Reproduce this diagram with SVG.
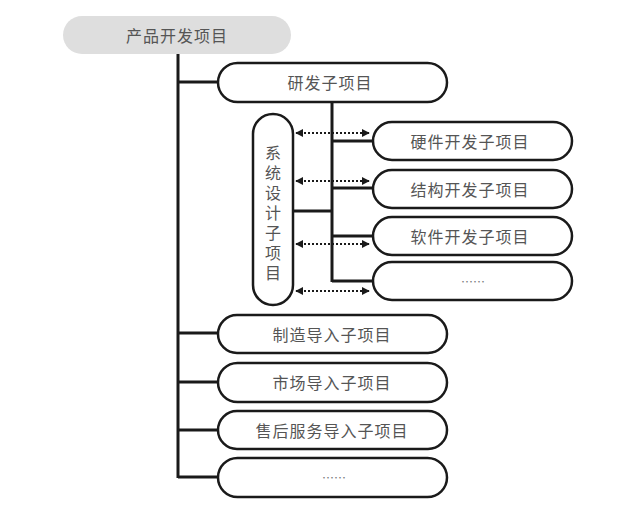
<svg xmlns="http://www.w3.org/2000/svg" width="640" height="523" viewBox="0 0 640 523">
<style>
.n{fill:#fff;stroke:#1a1a1a;stroke-width:2.5}
.t{font-family:"Noto Sans CJK SC","Noto Sans",sans-serif;font-size:16px;fill:#555;text-anchor:middle;dominant-baseline:central;letter-spacing:1px}
.v{font-family:"Noto Sans CJK SC","Noto Sans",sans-serif;font-size:16px;fill:#555;text-anchor:middle;writing-mode:vertical-rl;letter-spacing:4px}
.c{stroke:#1a1a1a;stroke-width:3;fill:none}
.d{stroke:#1a1a1a;stroke-width:2;stroke-dasharray:2 2;fill:none;marker-start:url(#a);marker-end:url(#a)}
</style>
<defs>
<marker id="a" viewBox="0 0 10 10" refX="9" refY="5" markerWidth="4" markerHeight="4" orient="auto-start-reverse" markerUnits="strokeWidth">
<path d="M0,0L10,5L0,10z" fill="#1a1a1a"/>
</marker>
</defs>
<rect width="640" height="523" fill="#fff"/>
<g id="connectors">
<path class="c" d="M178,54V478"/>
<path class="c" d="M178,82H218M178,333H218M178,382H218M178,430H218M178,477H218"/>
<path class="c" d="M332,102V282"/>
<path class="c" d="M332,141H373M332,188H373M332,236H373M332,281H373"/>
<path class="c" d="M293,211H332"/>
<path class="d" d="M296,133H369"/>
<path class="d" d="M296,181H369"/>
<path class="d" d="M296,244H369"/>
<path class="d" d="M296,291H369"/>
</g>
<g id="root"><rect x="63" y="16" width="228" height="38" rx="19" fill="#dedede"/><text class="t" x="177" y="35">产品开发项目</text></g>
<g id="rd"><rect class="n" x="218" y="63" width="229" height="39" rx="19.5"/><text class="t" x="330" y="82">研发子项目</text></g>
<g id="sys"><rect class="n" x="253" y="114" width="40" height="191" rx="20"/>
<text class="v" x="273" y="215">系统设计子项目</text></g>
<g id="hw"><rect class="n" x="373" y="122" width="199" height="38" rx="19"/><text class="t" x="470" y="141">硬件开发子项目</text></g>
<g id="st"><rect class="n" x="373" y="170" width="199" height="38" rx="19"/><text class="t" x="470" y="189">结构开发子项目</text></g>
<g id="sw"><rect class="n" x="373" y="217" width="199" height="38" rx="19"/><text class="t" x="470" y="236">软件开发子项目</text></g>
<g id="more1"><rect class="n" x="373" y="262" width="199" height="38" rx="19"/><text class="t" x="473" y="281" style="font-size:12px;letter-spacing:0;fill:#777">……</text></g>
<g id="mfg"><rect class="n" x="218" y="315" width="229" height="38" rx="19"/><text class="t" x="332" y="334">制造导入子项目</text></g>
<g id="mkt"><rect class="n" x="218" y="363" width="229" height="39" rx="19.5"/><text class="t" x="332" y="382">市场导入子项目</text></g>
<g id="svc"><rect class="n" x="218" y="411" width="229" height="38" rx="19"/><text class="t" x="332" y="430">售后服务导入子项目</text></g>
<g id="more2"><rect class="n" x="218" y="458" width="229" height="39" rx="19.5"/><text class="t" x="334" y="477" style="font-size:12px;letter-spacing:0;fill:#777">……</text></g>
</svg>
